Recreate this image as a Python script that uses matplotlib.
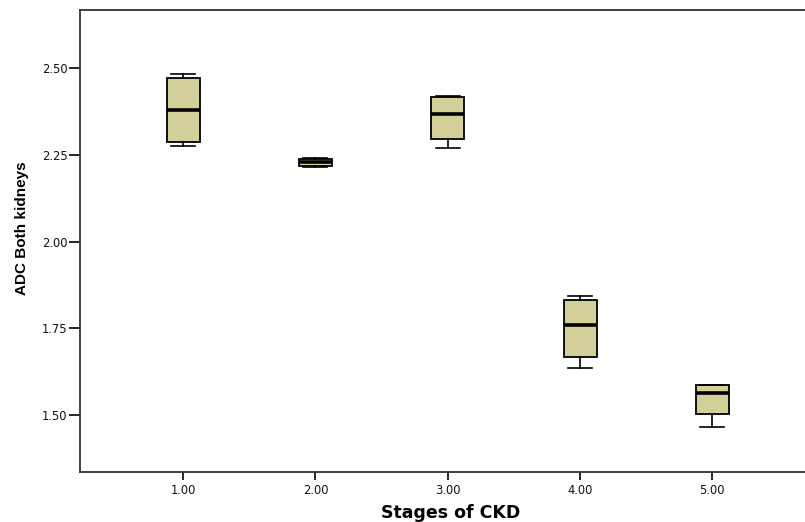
import matplotlib
matplotlib.use("Agg")
import matplotlib.pyplot as plt

stages = [1.0, 2.0, 3.0, 4.0, 5.0]
tick_labels = ["1.00", "2.00", "3.00", "4.00", "5.00"]
whislo = [2.275, 2.215, 2.269, 1.636, 1.466]
q1 = [2.287, 2.218, 2.294, 1.666, 1.504]
med = [2.379, 2.229, 2.367, 1.759, 1.565]
q3 = [2.470, 2.238, 2.415, 1.831, 1.586]
whishi = [2.483, 2.240, 2.418, 1.842, 1.588]

fig = plt.figure(figsize=(8.05, 5.22), dpi=100)
ax = fig.add_axes([80/805, 50/522, 1 - 80/805, 462/522])

stats = [dict(whislo=a, q1=b, med=c, q3=d, whishi=e, fliers=[])
         for a, b, c, d, e in zip(whislo, q1, med, q3, whishi)]
ax.bxp(stats, positions=stages, widths=0.25, patch_artist=True, showfliers=False,
       boxprops=dict(facecolor="#D3CF98", edgecolor="black", linewidth=1.3),
       medianprops=dict(color="black", linewidth=2.6),
       whiskerprops=dict(color="black", linewidth=1.2),
       capprops=dict(color="black", linewidth=1.2), capwidths=0.18)

ax.set_xlim(0.221, 5.70)
ax.set_ylim(1.336, 2.667)
ax.set_xticks(stages)
ax.set_xticklabels(tick_labels)
ax.set_yticks([1.50, 1.75, 2.00, 2.25, 2.50])
ax.set_yticklabels(["1.50", "1.75", "2.00", "2.25", "2.50"])
for lab in ax.get_xticklabels() + ax.get_yticklabels():
    lab.set_fontfamily(["DejaVu Sans"])
    lab.set_fontsize(8.3)
    lab.set_color("#111111")
ax.tick_params(axis="x", length=6, width=1.2, color="black", pad=3)
ax.tick_params(axis="y", length=8, width=1.2, color="black", pad=1)
ax.spines["right"].set_visible(False)
for s in ["left", "bottom", "top"]:
    ax.spines[s].set_linewidth(1.3)
    ax.spines[s].set_color("#333333")

ax.set_xlabel("Stages of CKD", fontsize=12.5, fontweight="bold",
              family=["DejaVu Sans"])
ax.set_ylabel("ADC Both kidneys", fontsize=11, fontweight="bold",
              family=["Liberation Sans", "DejaVu Sans"])
ax.xaxis.set_label_coords((451 - 80) / 725, -32 / 462)
ax.yaxis.set_label_coords((29 - 80) / 725, (472 - 228) / 462)

fig.savefig("out.png", dpi=100)
